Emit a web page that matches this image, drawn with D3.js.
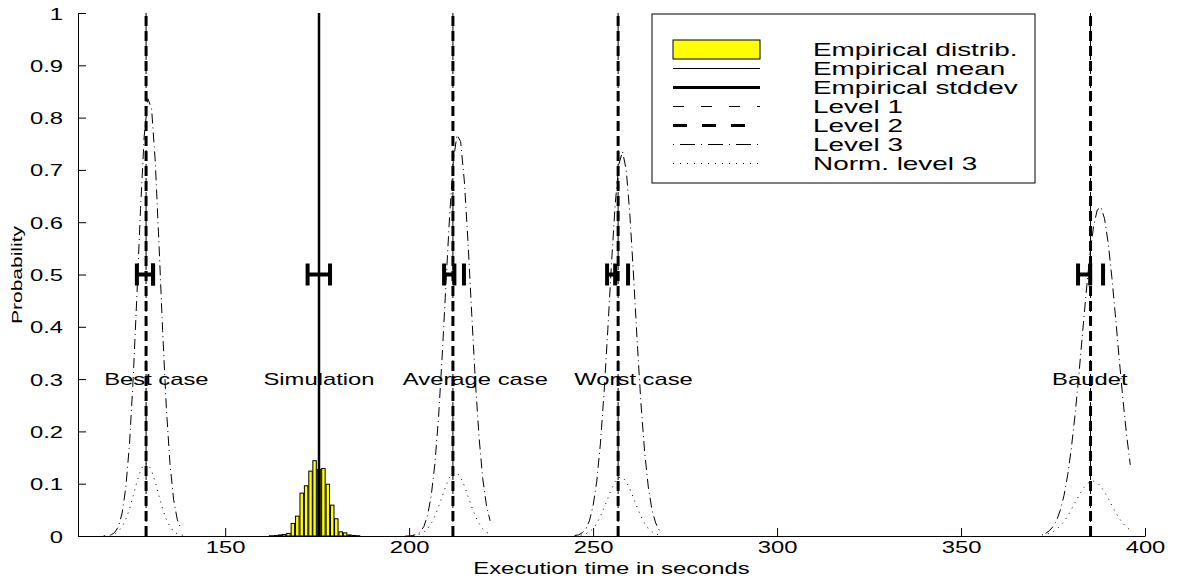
<!DOCTYPE html>
<html><head><meta charset="utf-8">
<script src="https://cdn.jsdelivr.net/npm/d3@7"></script>
<style>
body{margin:0;background:#fff}
svg{display:block}
text{font-family:"Liberation Sans",Arial,Helvetica,sans-serif;fill:#000}
</style>
</head><body>
<svg id="c" width="1177" height="579"></svg>
<script>
// ---------- data ----------
const xTicks=[150,200,250,300,350,400];
const xTickLabels=["150","200","250","300","350","400"];
const yTicks=[0,0.1,0.2,0.3,0.4,0.5,0.6,0.7,0.8,0.9,1];
const yTickLabels=["0","0.1","0.2","0.3","0.4","0.5","0.6","0.7","0.8","0.9","1"];

const histCenters=[162.5,163.7,164.9,166.0,167.2,168.4,169.6,170.8,172.0,173.2,174.3,175.5,176.7,177.9,179.1,180.2,181.4,182.6,183.8,185.0,186.1];
const histValues=[0.0005,0.001,0.002,0.003,0.005,0.024,0.038,0.082,0.096,0.124,0.144,0.127,0.129,0.099,0.059,0.033,0.008,0.006,0.002,0.001,0.0005];
const histBinWidth=1.18;

const empMean=175.5;
const empStdLow=172.4, empStdHigh=178.5;

const caseNames=["Best case","Simulation","Average case","Worst case","Baudet"];
const caseLabelX=[131.3,175.5,218.0,261.0,385.0];
const caseLabelY=0.3;

const level1X=[128.5,211.9,256.8,385.2];
const level2X=[128.5,211.9,256.8,385.2];
const levelStdLeft=[126.0,209.5,253.8,381.8];
const levelStdMid=[130.4,212.3,256.0,385.1];
const levelStdRight=[130.4,214.9,259.5,388.6];
const stdMarkY=0.5;

// Level 3 curves
const bestX=[119,120,121,122,123,124,125,126,127,128,129,130,131,132,133,134,135,136,137,138];
const bestL3=[0.002,0.007,0.018,0.044,0.093,0.176,0.301,0.459,0.626,0.765,0.836,0.817,0.716,0.560,0.393,0.246,0.138,0.069,0.031,0.013];
const bestNX=[117,118,119,120,121,122,123,124,125,126,127,128,129,130,131,132,133,134,135,136,137,138,139];
const bestN=[0.001,0.001,0.002,0.004,0.009,0.018,0.032,0.052,0.077,0.103,0.125,0.138,0.138,0.125,0.103,0.077,0.052,0.032,0.018,0.009,0.004,0.002,0.001];

const avgX=[199,200,201,202,203,204,205,206,207,208,209,210,211,212,213,214,215,216,217,218,219,220,221,222];
const avgL3=[0.000,0.000,0.001,0.003,0.008,0.018,0.039,0.077,0.138,0.228,0.346,0.481,0.612,0.716,0.767,0.754,0.679,0.562,0.426,0.296,0.189,0.110,0.059,0.029];
const avgNX=[201,202,203,204,205,206,207,208,209,210,211,212,213,214,215,216,217,218,219,220,221,222];
const avgN=[0.001,0.002,0.004,0.007,0.014,0.024,0.038,0.056,0.076,0.096,0.112,0.121,0.121,0.112,0.096,0.076,0.056,0.038,0.024,0.014,0.007,0.004];

const worstX=[245,246,247,248,249,250,251,252,253,254,255,256,257,258,259,260,261,262,263,264,265,266,267,268];
const worstL3=[0.001,0.002,0.006,0.013,0.029,0.058,0.105,0.178,0.276,0.395,0.521,0.634,0.711,0.735,0.700,0.614,0.497,0.370,0.254,0.161,0.094,0.050,0.025,0.011];
const worstNX=[245,246,247,248,249,250,251,252,253,254,255,256,257,258,259,260,261,262,263,264,265,266,267,268];
const worstN=[0.000,0.001,0.002,0.004,0.008,0.014,0.024,0.038,0.054,0.072,0.090,0.104,0.112,0.112,0.104,0.090,0.072,0.054,0.038,0.024,0.014,0.008,0.004,0.002];

const baudetX=[373,374,375,376,377,378,379,380,381,382,383,384,385,386,387,388,389,390,391,392,393,394,395,396];
const baudetL3=[0.005,0.010,0.018,0.030,0.050,0.078,0.117,0.169,0.232,0.306,0.386,0.465,0.536,0.591,0.623,0.629,0.607,0.560,0.494,0.418,0.338,0.261,0.193,0.136];
const baudetNX=[372,373,374,375,376,377,378,379,380,381,382,383,384,385,386,387,388,389,390,391,392,393,394,395,396];
const baudetN=[0.002,0.003,0.005,0.008,0.013,0.020,0.028,0.038,0.051,0.064,0.077,0.089,0.098,0.104,0.105,0.102,0.095,0.084,0.072,0.058,0.045,0.034,0.024,0.017,0.011];

const legendLabels=["Empirical distrib.","Empirical mean","Empirical stddev","Level 1","Level 2","Level 3","Norm. level 3"];
const xTitle="Execution time in seconds";
const yTitle="Probability";

// ---------- drawing ----------
const svg=d3.select("#c");
const X0=78, X1=1145, Y0=536, Y1=13;
const x=d3.scaleLinear().domain([110,400]).range([X0,X1]);
const y=d3.scaleLinear().domain([0,1]).range([Y0,Y1]);
const SX=1.4; // horizontal text stretch of the original figure

const L3DASH="10,4,1,4", NDASH="1,5", L2DASH="10,5", L1DASH="8,6";

const plot=svg.append("g");

// histogram
plot.selectAll("rect.hist").data(histCenters).join("rect")
  .attr("class","hist")
  .attr("x",(c)=>x(c-histBinWidth*0.4))
  .attr("width",(c)=>x(c+histBinWidth*0.4)-x(c-histBinWidth*0.4))
  .attr("y",(c,i)=>y(histValues[i]))
  .attr("height",(c,i)=>y(0)-y(histValues[i]))
  .attr("fill","#ffff00").attr("stroke","#000").attr("stroke-width",1);

const line=d3.line().x(d=>x(d[0])).y(d=>y(d[1]));
function curve(xs,ys,dash,w){
  plot.append("path").datum(xs.map((v,i)=>[v,ys[i]]))
    .attr("d",line).attr("fill","none").attr("stroke","#000")
    .attr("stroke-width",w).attr("stroke-dasharray",dash);
}
[[bestX,bestL3],[avgX,avgL3],[worstX,worstL3],[baudetX,baudetL3]].forEach(c=>curve(c[0],c[1],L3DASH,1));
[[bestNX,bestN],[avgNX,avgN],[worstNX,worstN],[baudetNX,baudetN]].forEach(c=>curve(c[0],c[1],NDASH,1));

// level lines
level1X.forEach(v=>plot.append("line").attr("x1",x(v)).attr("x2",x(v)).attr("y1",y(0)).attr("y2",y(1))
  .attr("stroke","#000").attr("stroke-width",1).attr("stroke-dasharray",L1DASH));
level2X.forEach(v=>plot.append("line").attr("x1",x(v)).attr("x2",x(v)).attr("y1",y(0)).attr("y2",y(1))
  .attr("stroke","#000").attr("stroke-width",3).attr("stroke-dasharray",L2DASH));

// empirical mean
plot.append("line").attr("x1",x(empMean)).attr("x2",x(empMean)).attr("y1",y(0)).attr("y2",y(1))
  .attr("stroke","#000").attr("stroke-width",2.5);

// stddev markers
const capH=0.021;
function cap(v){
  plot.append("line").attr("x1",x(v)).attr("x2",x(v)).attr("y1",y(stdMarkY-capH)).attr("y2",y(stdMarkY+capH))
    .attr("stroke","#000").attr("stroke-width",4);
}
function bar(a,b){
  plot.append("line").attr("x1",x(a)).attr("x2",x(b)).attr("y1",y(stdMarkY)).attr("y2",y(stdMarkY))
    .attr("stroke","#000").attr("stroke-width",4);
}
bar(empStdLow,empStdHigh); cap(empStdLow); cap(empStdHigh);
levelStdLeft.forEach((l,i)=>{ bar(l,levelStdMid[i]); cap(l); cap(levelStdMid[i]); cap(levelStdRight[i]); });

// case labels
caseNames.forEach((n,i)=>{
  plot.append("text").attr("transform",`translate(${x(caseLabelX[i])},${y(caseLabelY)+6}) scale(${SX},1)`)
    .attr("text-anchor","middle").style("font-size","17px").text(n);
});

// axes
const xa=svg.append("g").attr("transform",`translate(0,${Y0})`)
  .call(d3.axisBottom(x).tickValues(xTicks).tickFormat((d,i)=>xTickLabels[i]).tickSizeInner(-8).tickSizeOuter(0).tickPadding(0));
xa.select(".domain").attr("stroke","#000");
xa.selectAll(".tick line").attr("stroke","#000");
xa.selectAll(".tick text").attr("y",0).attr("dy",null)
  .attr("transform",`translate(0,17) scale(${SX},1)`).style("font-size","17px").attr("fill","#000");

const ya=svg.append("g").attr("transform",`translate(${X0},0)`)
  .call(d3.axisLeft(y).tickValues(yTicks).tickFormat((d,i)=>yTickLabels[i]).tickSizeInner(-8).tickSizeOuter(0).tickPadding(0));
ya.select(".domain").attr("stroke","#000");
ya.selectAll(".tick line").attr("stroke","#000");
ya.selectAll(".tick text").attr("x",0).attr("dy",null)
  .attr("transform",`translate(-15,6) scale(${SX},1)`).style("font-size","17px").attr("fill","#000");

// axis titles
svg.append("text").attr("transform",`translate(${(X0+X1)/2},574) scale(${SX},1)`)
  .attr("text-anchor","middle").style("font-size","17px").text(xTitle);
svg.append("text").attr("transform",`translate(22,275) rotate(-90) scale(1.5,1)`)
  .attr("text-anchor","middle").style("font-size","14px").text(yTitle);

// legend
const lg=svg.append("g");
lg.append("rect").attr("x",652).attr("y",14).attr("width",383).attr("height",169)
  .attr("fill","#fff").attr("stroke","#000").attr("stroke-width",1);
const rowY=i=>49.5+19*i;
const sx0=673, sx1=760;
lg.append("rect").attr("x",sx0).attr("y",rowY(0)-9.5).attr("width",sx1-sx0).attr("height",19)
  .attr("fill","#ffff00").attr("stroke","#000").attr("stroke-width",1);
const legStyles=[null,{w:1,d:null},{w:3,d:null},{w:1,d:"11,17"},{w:3,d:"14,15"},{w:1,d:"1,6,15,6"},{w:1,d:"1,6"}];
legStyles.forEach((s,i)=>{
  if(!s) return;
  lg.append("line").attr("x1",sx0).attr("x2",sx1).attr("y1",rowY(i)).attr("y2",rowY(i))
    .attr("stroke","#000").attr("stroke-width",s.w).attr("stroke-dasharray",s.d);
});
legendLabels.forEach((t,i)=>{
  lg.append("text").attr("transform",`translate(813,${rowY(i)+6}) scale(1.55,1)`)
    .style("font-size","18px").text(t);
});
</script>
</body></html>
